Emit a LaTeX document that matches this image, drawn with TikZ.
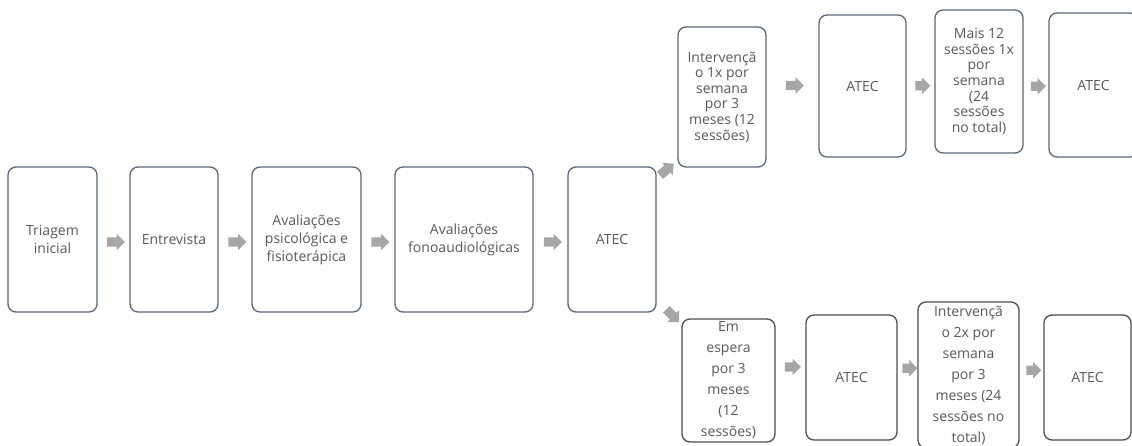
\documentclass[tikz,border=0pt]{standalone}
\usepackage{fontspec}
\setmainfont{Open Sans}
\usetikzlibrary{shapes.arrows,calc}
\definecolor{boxline}{HTML}{5B6779}
\definecolor{boxdark}{HTML}{4D4D4D}
\definecolor{txt}{HTML}{595959}
\definecolor{arr}{HTML}{A6A6A6}
\tikzset{
  stage/.style={draw=boxline, line width=1.3pt, rounded corners=8pt, fill=white,
    align=center, text=txt, inner sep=0pt, font=\fontsize{14}{18}\selectfont},
  topstage/.style={stage, font=\fontsize{14}{15.6}\selectfont},
  lowstage/.style={stage, draw=boxdark, font=\fontsize{14}{21}\selectfont},
  blockarrow/.style={single arrow, fill=arr, draw=none, inner xsep=0pt, inner ysep=4.5pt,
    minimum height=18pt, single arrow head extend=3.5pt,
    single arrow head indent=0pt},
}
\begin{document}
\begin{tikzpicture}[x=1pt,y=-1pt]
\useasboundingbox (0,0) rectangle (1132,445);
\begin{scope}
\clip (0,0) rectangle (1132,445);
% main row
\node[stage, minimum width=89pt, minimum height=145pt] (b1) at (52.5,239.5) {Triagem\\inicial};
\node[stage, minimum width=88pt, minimum height=145pt] (b2) at (174,239.5) {Entrevista};
\node[stage, minimum width=109pt, minimum height=145pt] (b3) at (306.5,239.5) {Avaliações\\psicológica e\\fisioterápica};
\node[stage, minimum width=138pt, minimum height=145pt] (b4) at (464,239.5) {Avaliações\\fonoaudiológicas};
\node[stage, minimum width=88pt, minimum height=145pt] (b5) at (612,239.5) {ATEC};
% top branch
\node[topstage, minimum width=88pt, minimum height=140pt] (t1) at (722,97) {Intervençã\\o 1x por\\semana\\por 3\\meses (12\\sessões)};
\node[topstage, minimum width=87pt, minimum height=142pt] (t2) at (862.5,86) {ATEC};
\node[topstage, minimum width=88pt, minimum height=143pt] (t3) at (979,81.5) {Mais 12\\sessões 1x\\por\\semana\\(24\\sessões\\no total)};
\node[topstage, minimum width=89pt, minimum height=144pt] (t4) at (1093.5,85) {ATEC};
% bottom branch
\node[lowstage, minimum width=93pt, minimum height=123pt] (u1) at (728.5,380.5) {Em\\espera\\por 3\\meses\\(12\\sessões)};
\node[lowstage, minimum width=91pt, minimum height=125pt] (u2) at (851.5,377.5) {ATEC};
\node[lowstage, minimum width=101pt, minimum height=146pt] (u3) at (968.5,375) {Intervençã\\o 2x por\\semana\\por 3\\meses (24\\sessões no\\total)};
\node[lowstage, minimum width=87pt, minimum height=125pt] (u4) at (1087.5,377.5) {ATEC};
% arrows
\node[blockarrow] (a1) at ($(b1.east)!0.5!(b2.west)+(0,2.5)$) {};
\node[blockarrow] (a2) at ($(b2.east)!0.5!(b3.west)+(0,2.5)$) {};
\node[blockarrow] (a3) at ($(b3.east)!0.5!(b4.west)+(0,2.5)$) {};
\node[blockarrow] (a4) at ($(b4.east)!0.5!(b5.west)+(0,2.5)$) {};
\node[blockarrow, rotate=40] (d1) at (665,171) {};
\node[blockarrow, rotate=-45] (d2) at (671,314) {};
\node[blockarrow] (a5) at ($(t1.east)!0.5!(t2.west)+(0,-6)$) {};
\node[blockarrow, minimum height=15pt] (a6) at ($(t2.east)!0.5!(t3.west)+(0,2)$) {};
\node[blockarrow, minimum height=15pt] (a7) at ($(t3.east)!0.5!(t4.west)+(0,3)$) {};
\node[blockarrow, minimum height=16pt] (a8) at ($(u1.east)!0.5!(u2.west)+(0,-12)$) {};
\node[blockarrow, minimum height=15pt] (a9) at ($(u2.east)!0.5!(u3.west)+(0,-8)$) {};
\node[blockarrow, minimum height=15pt] (a10) at ($(u3.east)!0.5!(u4.west)+(0,-6)$) {};
\end{scope}
\end{tikzpicture}
\end{document}
